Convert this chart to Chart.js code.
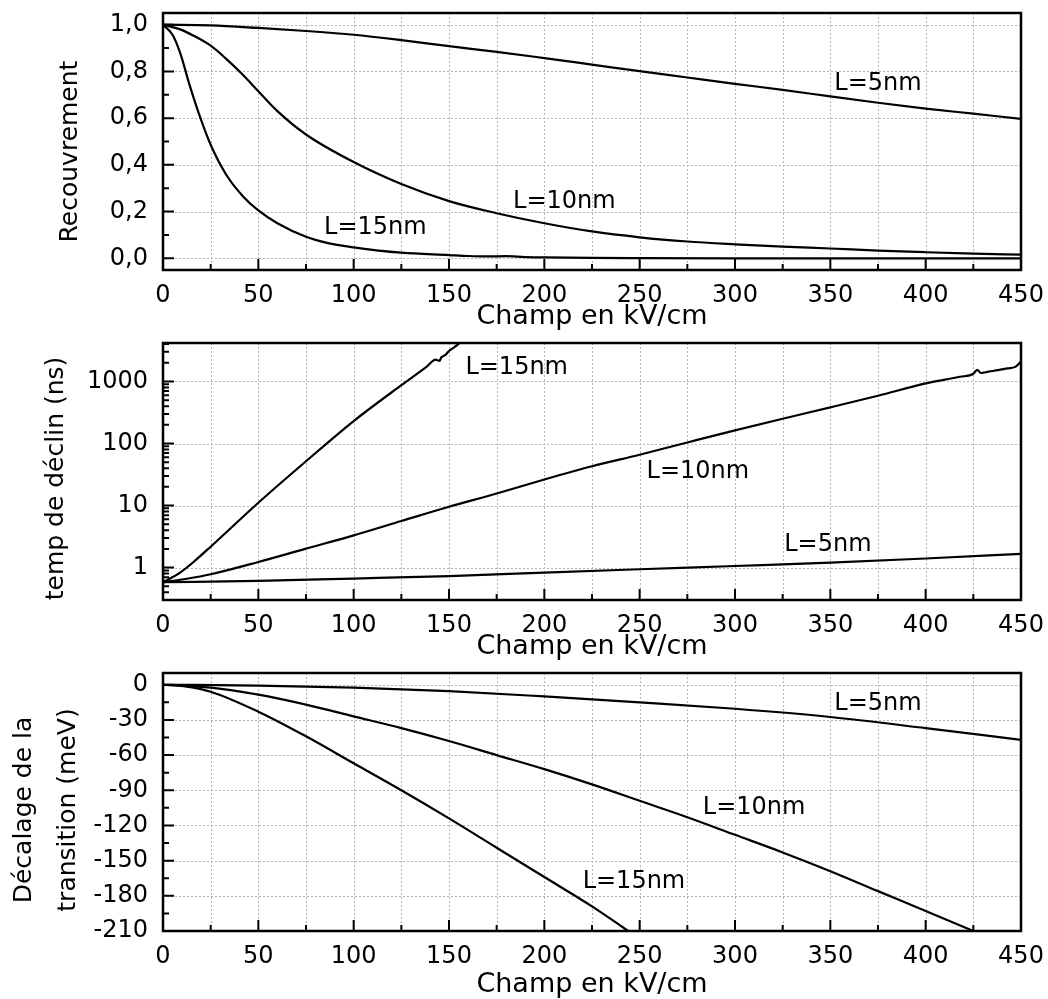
<!DOCTYPE html>
<html>
<head>
<meta charset="utf-8">
<script src="https://cdn.jsdelivr.net/npm/chart.js@4.4.1/dist/chart.umd.min.js"></script>
<style>
html, body { margin: 0; padding: 0; background: #fff; }
#wrap { position: relative; width: 1048px; height: 999px; overflow: hidden; }
canvas { position: absolute; left: 0; }
</style>
</head>
<body>
<div id="wrap">
<canvas id="c1" width="1048" height="330" style="top:0px"></canvas>
<canvas id="c2" width="1048" height="330" style="top:330px"></canvas>
<canvas id="c3" width="1048" height="339" style="top:660px"></canvas>
</div>
<script>
// ---------------- DATA ----------------
const seriesNames = ['L=5nm', 'L=10nm', 'L=15nm'];

// shared x axis (Champ en kV/cm)
const xTickLabels = [0, 50, 100, 150, 200, 250, 300, 350, 400, 450];
const xMinorTicks = [25, 75, 125, 175, 225, 275, 325, 375, 425];
const xGridLines = [25, 50, 75, 100, 125, 150, 175, 200, 225, 250, 275, 300, 325, 350, 375, 400, 425];

// Panel 1 : Recouvrement
const recTicks = [0, 0.2, 0.4, 0.6, 0.8, 1.0];
const recMinorTicks = [0.1, 0.3, 0.5, 0.7, 0.9];
const recF5  = [0, 25, 50, 75, 100, 125, 150, 175, 200, 225, 250, 275, 300, 325, 350, 375, 400, 425, 450];
const recL5  = [1.0, 0.997, 0.986, 0.973, 0.957, 0.934, 0.908, 0.884, 0.857, 0.829, 0.801, 0.774, 0.747, 0.721, 0.693, 0.666, 0.641, 0.619, 0.597];
const recF10 = [0, 9, 16, 25, 33, 42, 50, 60, 75, 100, 125, 150, 175, 200, 225, 250, 275, 300, 325, 350, 375, 400, 425, 450];
const recL10 = [1.0, 0.98, 0.953, 0.91, 0.855, 0.785, 0.715, 0.63, 0.53, 0.412, 0.318, 0.245, 0.193, 0.150, 0.115, 0.090, 0.072, 0.060, 0.050, 0.042, 0.033, 0.026, 0.020, 0.016];
const recF15 = [0, 5, 9, 14, 19, 25, 33, 42, 50, 60, 75, 86, 100, 125, 150, 160, 170, 180, 190, 200, 225, 250, 300, 350, 400, 450];
const recL15 = [1.0, 0.957, 0.879, 0.74, 0.615, 0.486, 0.36, 0.265, 0.205, 0.15, 0.092, 0.066, 0.047, 0.024, 0.014, 0.010, 0.008, 0.009, 0.005, 0.004, 0.002, 0.001, 0, 0, 0, 0];

// Panel 2 : temp de déclin (ns), log scale
const tauTicks = [1, 10, 100, 1000];
const tauMinorTicks = [0.4, 0.5, 0.6, 0.7, 0.8, 0.9, 2, 3, 4, 5, 6, 7, 8, 9, 20, 30, 40, 50, 60, 70, 80, 90, 200, 300, 400, 500, 600, 700, 800, 900, 2000, 3000, 4000];
const tauF5  = [0, 50, 100, 150, 200, 250, 300, 350, 400, 450];
const tauL5  = [0.58, 0.61, 0.665, 0.73, 0.83, 0.94, 1.06, 1.2, 1.4, 1.66];
const tauF10 = [0, 12.5, 25, 50, 75, 100, 125, 150, 175, 200, 225, 250, 275, 300, 325, 350, 375, 400, 410, 418, 425, 427, 429, 433, 438, 443, 447, 450];
const tauL10 = [0.58, 0.66, 0.78, 1.23, 2.02, 3.31, 5.62, 9.55, 15.6, 26.3, 43, 66, 104, 163, 251, 382, 588, 930, 1070, 1190, 1330, 1540, 1370, 1440, 1520, 1630, 1720, 2100];
const tauF15 = [0, 9, 16, 25, 50, 75, 100, 125, 138, 143, 145, 146, 148, 150, 153, 156];
const tauL15 = [0.58, 0.83, 1.23, 2.17, 11.1, 51.8, 230, 870, 1700, 2250, 2150, 2450, 2650, 3100, 3600, 4300];

// Panel 3 : Décalage de la transition (meV)
const decTicks = [0, -30, -60, -90, -120, -150, -180, -210];
const decMinorTicks = [-15, -45, -75, -105, -135, -165, -195];
const decF5  = [0, 50, 100, 150, 200, 250, 300, 350, 400, 450];
const decL5  = [0, -0.7, -2.5, -5.5, -10, -15, -20.5, -27.5, -37, -47];
const decF10 = [0, 25, 50, 75, 100, 125, 150, 175, 200, 225, 250, 275, 300, 325, 350, 375, 400, 425];
const decL10 = [0, -2.5, -8.5, -17, -27, -37, -48, -60, -72, -85, -99, -113, -128, -143, -159, -176, -193, -210];
const decF15 = [0, 12.5, 25, 50, 75, 100, 125, 150, 175, 200, 225, 244];
const decL15 = [0, -1.6, -6, -23, -44, -67, -90, -114, -139, -164, -189, -210];

// ---------------- RENDERING ----------------
const FONT = '"DejaVu Sans", "Liberation Sans", Arial, sans-serif';
Chart.defaults.font.family = FONT;
Chart.defaults.color = '#000';

const pts = (fs, vs) => fs.map((f, i) => ({ x: f, y: vs[i] }));

const decor = {
  id: 'decor',
  beforeDatasetsDraw(chart, _a, o) {
    const { ctx, chartArea: a, scales: { x, y } } = chart;
    ctx.save();
    ctx.strokeStyle = '#b3b3b3';
    ctx.lineWidth = 1;
    ctx.setLineDash([2, 2]);
    ctx.beginPath();
    for (const v of o.xGrid) {
      const p = Math.round(x.getPixelForValue(v)) + 0.5;
      ctx.moveTo(p, a.top); ctx.lineTo(p, a.bottom);
    }
    for (const v of o.yGrid) {
      const p = Math.round(y.getPixelForValue(v)) + 0.5;
      ctx.moveTo(a.left, p); ctx.lineTo(a.right, p);
    }
    ctx.stroke();
    ctx.restore();
  },
  afterDatasetsDraw(chart, _a, o) {
    const { ctx, chartArea: a, scales: { x, y } } = chart;
    ctx.save();
    ctx.strokeStyle = '#000';
    ctx.lineWidth = 2;
    ctx.beginPath();
    for (const v of o.xMajor) { const p = x.getPixelForValue(v); ctx.moveTo(p, a.bottom); ctx.lineTo(p, a.bottom - 11); }
    for (const v of o.xMinor) { const p = x.getPixelForValue(v); ctx.moveTo(p, a.bottom); ctx.lineTo(p, a.bottom - 6); }
    for (const v of o.yMajor) { const p = y.getPixelForValue(v); ctx.moveTo(a.left, p); ctx.lineTo(a.left + 11, p); }
    for (const v of o.yMinor) { const p = y.getPixelForValue(v); ctx.moveTo(a.left, p); ctx.lineTo(a.left + 6, p); }
    ctx.stroke();
    ctx.lineWidth = 2.5;
    ctx.strokeRect(a.left, a.top, a.right - a.left, a.bottom - a.top);
    ctx.fillStyle = '#000';
    ctx.font = '24px ' + FONT;
    ctx.textAlign = 'center';
    ctx.textBaseline = 'middle';
    for (const l of o.labels) {
      ctx.fillText(l.text, x.getPixelForValue(l.x), y.getPixelForValue(l.y));
    }
    ctx.restore();
  }
};

function makeChart(id, cfg) {
  return new Chart(document.getElementById(id), {
    type: 'line',
    data: {
      datasets: cfg.series.map((s, i) => ({
        label: seriesNames[i], data: s, borderColor: '#000', borderWidth: 2.2,
        pointRadius: 0, fill: false, cubicInterpolationMode: 'monotone'
      }))
    },
    options: {
      responsive: false, animation: false, events: [],
      layout: { padding: { top: 13, right: 27, left: 0, bottom: 0 } },
      plugins: { legend: { display: false }, tooltip: { enabled: false }, decor: cfg.decor },
      scales: {
        x: {
          type: 'linear', min: 0, max: 450,
          grid: { display: false, drawTicks: false }, border: { display: false },
          afterBuildTicks: s => { s.ticks = xTickLabels.map(v => ({ value: v })); },
          afterFit: s => { s.height = cfg.xHeight; s.paddingLeft = 0; s.paddingRight = 0; },
          ticks: { padding: 11, font: { size: 24 }, color: '#000', maxRotation: 0, autoSkip: false, callback: v => String(v) },
          title: { display: true, text: 'Champ en kV/cm', color: '#000', font: { size: 27, lineHeight: 1 }, padding: { top: 0, bottom: cfg.xTitlePad } }
        },
        y: {
          type: cfg.yType, min: cfg.yMin, max: cfg.yMax,
          grid: { display: false, drawTicks: false }, border: { display: false },
          afterBuildTicks: s => { s.ticks = cfg.yTicks.map(v => ({ value: v })); },
          afterFit: s => {
            s.width = 163; s.paddingTop = 0; s.paddingBottom = 0;
            if (!s._titleShifted) {
              const orig = s.drawTitle;
              s.drawTitle = function () {
                this.ctx.save();
                this.ctx.translate(0, cfg.yTitleShift);
                orig.call(this);
                this.ctx.restore();
              };
              s._titleShifted = true;
            }
          },
          ticks: { padding: 15, font: { size: 24 }, color: '#000', autoSkip: false, callback: cfg.yFmt },
          title: { display: true, text: cfg.yTitle, color: '#000', font: { size: 25, lineHeight: cfg.yTitleLH }, padding: { top: cfg.yTitlePad, bottom: 0 } }
        }
      }
    },
    plugins: [decor]
  });
}

makeChart('c1', {
  series: [pts(recF5, recL5), pts(recF10, recL10), pts(recF15, recL15)],
  yType: 'linear', yMin: -0.05, yMax: 1.05, yTicks: recTicks,
  yFmt: v => Number(v).toFixed(1).replace('.', ','),
  yTitle: 'Recouvrement', yTitleLH: 1.2, yTitlePad: 55, yTitleShift: 10,
  xHeight: 60, xTitlePad: 0,
  decor: {
    xGrid: xGridLines, yGrid: recTicks, xMajor: xTickLabels, xMinor: xMinorTicks,
    yMajor: recTicks, yMinor: recMinorTicks,
    labels: [
      { text: seriesNames[0], x: 375, y: 0.747 },
      { text: seriesNames[1], x: 210.5, y: 0.243 },
      { text: seriesNames[2], x: 111.4, y: 0.132 }
    ]
  }
});

makeChart('c2', {
  series: [pts(tauF5, tauL5), pts(tauF10, tauL10), pts(tauF15, tauL15)],
  yType: 'logarithmic', yMin: 0.31, yMax: 4170, yTicks: tauTicks,
  yFmt: v => String(v),
  yTitle: 'temp de déclin (ns)', yTitleLH: 1.2, yTitlePad: 41, yTitleShift: 7,
  xHeight: 60, xTitlePad: 0,
  decor: {
    xGrid: xGridLines, yGrid: tauTicks, xMajor: xTickLabels, xMinor: xMinorTicks,
    yMajor: tauTicks, yMinor: tauMinorTicks,
    labels: [
      { text: seriesNames[2], x: 185.5, y: 1686 },
      { text: seriesNames[1], x: 280.5, y: 34.6 },
      { text: seriesNames[0], x: 348.7, y: 2.37 }
    ]
  }
});

makeChart('c3', {
  series: [pts(decF5, decL5), pts(decF10, decL10), pts(decF15, decL15)],
  yType: 'linear', yMin: -210, yMax: 10, yTicks: decTicks,
  yFmt: v => String(v),
  yTitle: ['Décalage de la', 'transition (meV)'], yTitleLH: 1.74, yTitlePad: 3, yTitleShift: 8,
  xHeight: 68, xTitlePad: 1,
  decor: {
    xGrid: xGridLines, yGrid: decTicks.slice(0, 7), xMajor: xTickLabels, xMinor: xMinorTicks,
    yMajor: decTicks, yMinor: decMinorTicks,
    labels: [
      { text: seriesNames[0], x: 375, y: -16.2 },
      { text: seriesNames[1], x: 310, y: -105 },
      { text: seriesNames[2], x: 247, y: -168 }
    ]
  }
});
</script>
</body>
</html>
